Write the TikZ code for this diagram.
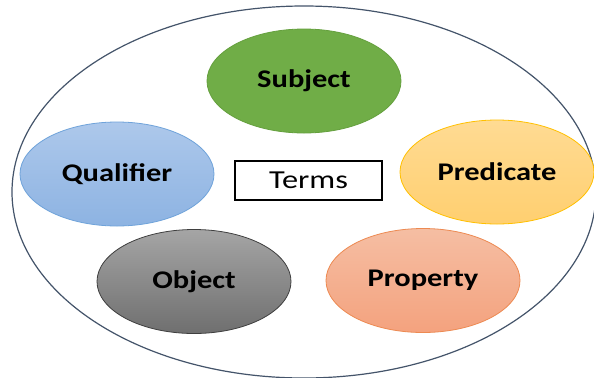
\documentclass[tikz,border=0pt]{standalone}
\usepackage{fontspec}
\setmainfont{Carlito}[FakeStretch=1.2]
\newfontfamily\termsfont{Carlito}[FakeStretch=1.25]
\usetikzlibrary{shapes.geometric}
\definecolor{outerc}{HTML}{44546A}
\definecolor{subjf}{HTML}{70AD47}
\definecolor{subjd}{HTML}{65A03E}
\definecolor{qualt}{HTML}{ADC8EB}
\definecolor{qualb}{HTML}{8DB3E2}
\definecolor{quald}{HTML}{6FA3DA}
\definecolor{predt}{HTML}{FFDB93}
\definecolor{predb}{HTML}{FFCF70}
\definecolor{predd}{HTML}{FFC000}
\definecolor{objt}{HTML}{A5A5A5}
\definecolor{objb}{HTML}{6F6F6F}
\definecolor{objd}{HTML}{3F3F3F}
\definecolor{propt}{HTML}{F5BEA3}
\definecolor{propb}{HTML}{F4A27E}
\definecolor{propd}{HTML}{ED8A52}
\tikzset{
  term/.style={ellipse, minimum width=194bp, minimum height=104bp, inner sep=0pt,
    line width=0.8bp, font=\fontsize{25.5}{28}\selectfont\bfseries},
  termsbox/.style={draw=black, line width=1.4bp, minimum width=147bp, minimum height=39bp,
    inner sep=0pt, font=\termsfont\fontsize{26}{28}\selectfont},
  outerline/.style={draw=outerc, line width=1.2bp}
}
\begin{document}
\begin{tikzpicture}[x=1bp,y=-1bp]
\useasboundingbox (0,0) rectangle (594,377);
\fill[white] (0,0) rectangle (594,377);
\draw[outerline] (304,192) ellipse [x radius=292, y radius=186];
\node[term, fill=subjf, draw=subjd] (subject) at (304,81) {Subject};
\node[term, top color=qualt, bottom color=qualb, draw=quald] (qualifier) at (117,174) {Qualifier};
\node[term, top color=predt, bottom color=predb, draw=predd] (predicate) at (497,172) {Predicate};
\node[term, top color=objt, bottom color=objb, draw=objd] (object) at (194,281.5) {Object};
\node[term, top color=propt, bottom color=propb, draw=propd] (property) at (423,280.5) {Property};
\node[termsbox] (terms) at (308.5,180.5) {Terms};
\end{tikzpicture}
\end{document}
